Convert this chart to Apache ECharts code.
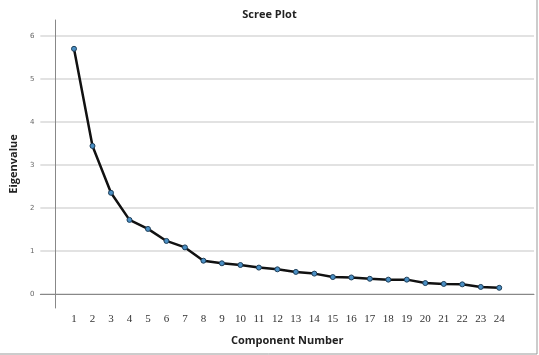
<!DOCTYPE html>
<html>
<head>
<meta charset="utf-8">
<script src="https://cdn.jsdelivr.net/npm/echarts@6/dist/echarts.min.js"></script>
<style>
html, body { margin: 0; padding: 0; background: #fff; }
#chart { width: 539px; height: 355px; }
</style>
</head>
<body>
<div id="chart"></div>
<script>
// component numbers and their eigenvalues
const components = [1, 2, 3, 4, 5, 6, 7, 8, 9, 10, 11, 12, 13, 14, 15, 16, 17, 18, 19, 20, 21, 22, 23, 24]
const eigenvalues = [5.70, 3.44, 2.35, 1.72, 1.51, 1.23, 1.08, 0.77, 0.71, 0.67, 0.61, 0.57,
    0.51, 0.47, 0.39, 0.38, 0.35, 0.33, 0.33, 0.25, 0.23, 0.22, 0.16, 0.14]
const yTicks = [0, 1, 2, 3, 4, 5, 6]

const chart = echarts.init(document.getElementById('chart'))

const seriesData = components.map((c, i) => [c, eigenvalues[i]])

const options = {
    animation: false,
    backgroundColor: '#fff',
    title: {
        text: 'Scree Plot',
        left: 'center',
        top: 4,
        textStyle: {
            fontFamily: 'Open Sans',
            fontSize: 11,
            fontWeight: 'bold',
            color: '#222'
        }
    },
    grid: {
        left: 37,
        right: 5,
        top: 20,
        bottom: 47
    },
    xAxis: {
        type: 'value',
        min: -0.82,
        max: 25.88,
        name: 'Component Number',
        nameLocation: 'middle',
        nameGap: 27,
        nameTextStyle: {
            fontFamily: 'Open Sans',
            fontSize: 11,
            fontWeight: 'bold',
            color: '#222'
        },
        axisLine: { show: true, lineStyle: { color: '#888', width: 1 } },
        axisTick: { show: false, customValues: components },
        axisLabel: {
            customValues: components,
            margin: 6,
            fontFamily: 'Liberation Serif',
            fontSize: 11,
            color: '#333'
        },
        splitLine: { show: false }
    },
    yAxis: {
        type: 'value',
        min: -0.33,
        max: 6.37,
        name: 'Eigenvalue',
        nameLocation: 'middle',
        nameGap: 16,
        nameTextStyle: {
            fontFamily: 'Open Sans',
            fontSize: 11,
            fontWeight: 'bold',
            color: '#222'
        },
        axisLine: { show: true, lineStyle: { color: '#888', width: 1 } },
        axisTick: { show: false, customValues: yTicks },
        axisLabel: {
            customValues: yTicks,
            margin: 6,
            fontFamily: 'DejaVu Sans',
            fontSize: 7,
            color: '#666'
        },
        splitLine: { show: true, lineStyle: { color: '#d8d8d8', width: 1.5 } }
    },
    graphic: [
        {
            type: 'line',
            shape: { x1: 0, y1: 354, x2: 537, y2: 354 },
            style: { stroke: '#999', lineWidth: 1 }
        },
        {
            type: 'line',
            shape: { x1: 537, y1: 0, x2: 537, y2: 354 },
            style: { stroke: '#999', lineWidth: 1 }
        }
    ],
    series: [
        {
            type: 'line',
            data: seriesData,
            symbol: 'circle',
            symbolSize: 5,
            lineStyle: { color: '#111', width: 2.5 },
            itemStyle: { color: '#4a8fc4', borderColor: '#1f3f5a', borderWidth: 1 }
        }
    ]
}
chart.setOption(options)
</script>
</body>
</html>
